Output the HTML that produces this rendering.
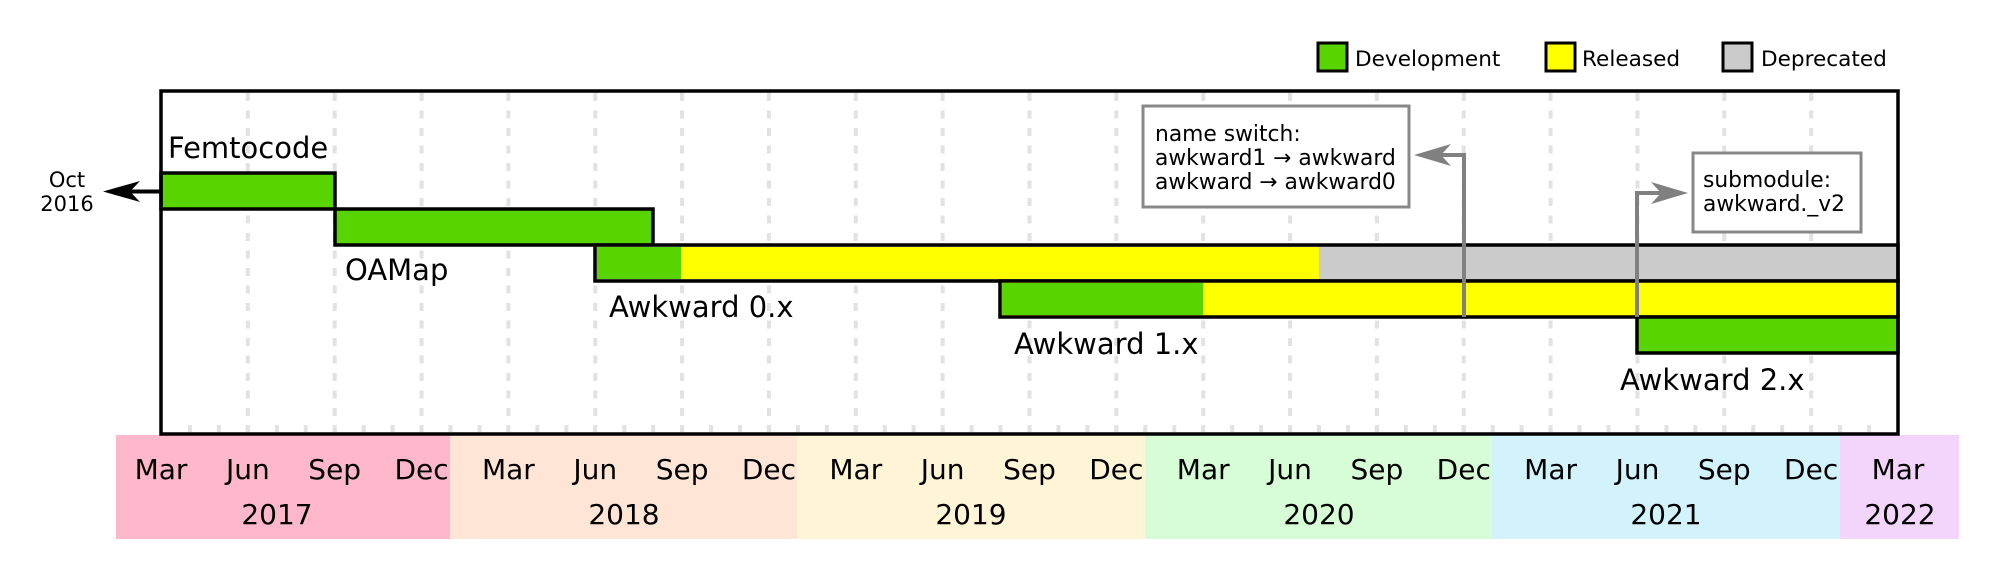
<!DOCTYPE html>
<html><head><meta charset="utf-8"><style>
html,body{margin:0;padding:0;background:#fff;width:2000px;height:580px;overflow:hidden}
svg text{font-family:"DejaVu Sans","Liberation Sans",sans-serif;fill:#000}
</style></head><body>
<svg width="2000" height="580" viewBox="0 0 2000 580" xmlns="http://www.w3.org/2000/svg">
<rect x="116" y="435" width="334" height="104" fill="#ffb7cb"/>
<rect x="450" y="435" width="347" height="104" fill="#ffe5d6"/>
<rect x="797" y="435" width="348" height="104" fill="#fff4d6"/>
<rect x="1145" y="435" width="347" height="104" fill="#d6fdd6"/>
<rect x="1492" y="435" width="348" height="104" fill="#d3f3fc"/>
<rect x="1840" y="435" width="119" height="104" fill="#f3d5fc"/>
<g id="grid" stroke="#e2e2e2" stroke-width="4" stroke-dasharray="8 9.5">
</g>
<g id="ticks" stroke="#e2e2e2" stroke-width="4"></g>
<g stroke="#000" stroke-width="3.5">
<rect x="161" y="173" width="174" height="36" fill="#58d500"/>
<rect x="335" y="209" width="318" height="36" fill="#58d500"/>
<rect x="595" y="245" width="1303" height="36" fill="#cbcbcb"/>
<rect x="1000" y="281" width="898" height="36" fill="#ffff00"/>
<rect x="1637" y="317" width="261" height="36" fill="#58d500"/>
</g>
<rect x="597" y="247" width="84" height="32" fill="#58d500"/>
<rect x="681" y="247" width="638" height="32" fill="#ffff00"/>
<rect x="1002" y="283" width="201" height="32" fill="#58d500"/>
<rect x="161" y="91" width="1737" height="343" fill="none" stroke="#000" stroke-width="3.5"/>
<line x1="161" y1="191.5" x2="125" y2="191.5" stroke="#000" stroke-width="4"/>
<polygon points="103,191.5 140,181 130,191.5 140,202" fill="#000"/>
<text x="67" y="187" font-size="21" text-anchor="middle">Oct</text>
<text x="67" y="211" font-size="21" text-anchor="middle">2016</text>
<text x="168" y="158" font-size="29">Femtocode</text>
<text x="345" y="280" font-size="29">OAMap</text>
<text x="609" y="317" font-size="29">Awkward 0.x</text>
<text x="1014" y="354" font-size="29">Awkward 1.x</text>
<text x="1620" y="390" font-size="29">Awkward 2.x</text>
<rect x="1143" y="106" width="266" height="101" fill="#fff" stroke="#888" stroke-width="3"/>
<text x="1155" y="141" font-size="21.8">name switch:</text>
<text x="1155" y="165" font-size="21.8">awkward1 → awkward</text>
<text x="1155" y="189" font-size="21.8">awkward → awkward0</text>
<polyline points="1464,317 1464,155 1435,155" fill="none" stroke="#808080" stroke-width="4"/>
<polygon points="1414,155 1451,144 1441,155 1451,166" fill="#808080"/>
<rect x="1693" y="153" width="168" height="79" fill="#fff" stroke="#888" stroke-width="3"/>
<text x="1703" y="187" font-size="21.8">submodule:</text>
<text x="1703" y="211" font-size="21.8">awkward._v2</text>
<polyline points="1637,317 1637,193 1665,193" fill="none" stroke="#808080" stroke-width="4"/>
<polygon points="1688,193 1651,182 1661,193 1651,204" fill="#808080"/>
<rect x="1318" y="43" width="29" height="28" fill="#58d500" stroke="#000" stroke-width="3"/>
<text x="1355" y="66" font-size="21.6">Development</text>
<rect x="1546" y="43" width="29" height="28" fill="#ffff00" stroke="#000" stroke-width="3"/>
<text x="1582" y="66" font-size="21.6">Released</text>
<rect x="1723" y="43" width="29" height="28" fill="#cbcbcb" stroke="#000" stroke-width="3"/>
<text x="1761" y="66" font-size="21.6">Deprecated</text>
<g id="months" font-size="28" text-anchor="middle"></g>
<g font-size="28" text-anchor="middle">
<text x="277" y="524">2017</text>
<text x="624" y="524">2018</text>
<text x="971" y="524">2019</text>
<text x="1319" y="524">2020</text>
<text x="1666" y="524">2021</text>
<text x="1900" y="524">2022</text>
</g>
</svg>
<script>
(function(){
var ns="http://www.w3.org/2000/svg",X=function(m){return 161+m*28.95;};
var g=document.getElementById('grid'),t=document.getElementById('ticks'),mo=document.getElementById('months');
var names=["Mar","Jun","Sep","Dec"];
for(var m=3;m<60;m+=3){var l=document.createElementNS(ns,'line');l.setAttribute('x1',X(m));l.setAttribute('x2',X(m));l.setAttribute('y1',93);l.setAttribute('y2',432);g.appendChild(l);}
for(var m=1;m<60;m++){var l=document.createElementNS(ns,'line');l.setAttribute('x1',X(m));l.setAttribute('x2',X(m));l.setAttribute('y1',425);l.setAttribute('y2',432);t.appendChild(l);}
for(var m=0;m<=60;m+=3){var e=document.createElementNS(ns,'text');e.setAttribute('x',X(m));e.setAttribute('y',479);e.textContent=names[(m/3)%4];mo.appendChild(e);}
})();
</script>
</body></html>
